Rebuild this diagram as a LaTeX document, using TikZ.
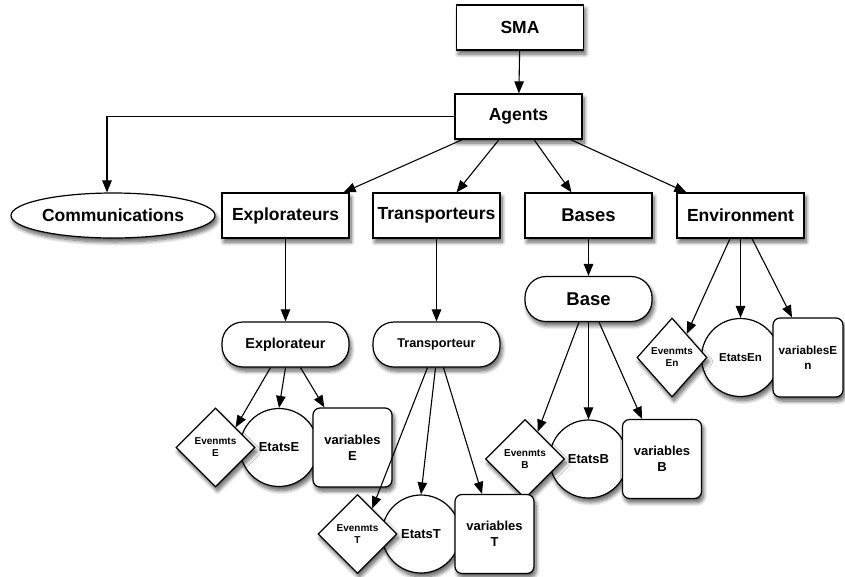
\documentclass[tikz,border=0pt]{standalone}
\usepackage{fontspec}
\setmainfont{Liberation Sans}
\usetikzlibrary{arrows.meta,shapes.geometric,shadows.blur}
\begin{document}
\begin{tikzpicture}[x=1pt,y=-1pt,
  shad/.style={blur shadow={shadow xshift=2pt,shadow yshift=-4pt,shadow blur radius=4pt,shadow blur steps=8,shadow opacity=65}},
  base/.style={draw,line width=1.2pt,fill=white,shad,inner sep=0pt,align=center,font=\bfseries},
  boxn/.style={base,rectangle,minimum width=127pt,minimum height=45pt},
  pill/.style={base,rectangle,rounded corners=21pt,minimum width=127pt,minimum height=45pt},
  dia/.style={base,diamond,minimum width=79pt,minimum height=79pt},
  circ/.style={base,circle,minimum size=78pt},
  vbox/.style={base,rectangle,rounded corners=7pt,minimum width=79pt,minimum height=79pt},
  arr/.style={line width=1.1pt,-{Triangle[length=12pt,width=9.5pt]}},
  fbig/.style={font=\bfseries\fontsize{17.5}{20}\selectfont},
  fmid/.style={font=\bfseries\fontsize{13}{16}\selectfont},
  fsmall/.style={font=\bfseries\fontsize{10}{12}\selectfont}
]
\useasboundingbox (0,0) rectangle (845,576);

% top level
\node[boxn,fbig] (sma) at (520,27.5) {SMA};
\node[boxn,fbig] (agents) at (518.5,116.5) {Agents};
\node[base,ellipse,minimum width=204pt,minimum height=45pt,fbig] (comm) at (113,215.5) {Communications};
\node[boxn,fbig] (expls) at (285.5,215.5) {Explorateurs};
\node[boxn,fbig] (trans) at (436.5,215.5) {Transporteurs};
\node[boxn,font=\bfseries\fontsize{18.5}{21}\selectfont] (bases) at (588.5,215.5) {Bases};
\node[boxn,fbig] (env) at (740.5,215.5) {Environment};

% second level
\node[pill,font=\bfseries\fontsize{14.4}{17}\selectfont] (expl) at (285.5,344.5) {Explorateur};
\node[pill,font=\bfseries\fontsize{12.7}{15}\selectfont] (tra) at (436.5,344.5) {Transporteur};
\node[pill,font=\bfseries\fontsize{18.5}{21}\selectfont] (base) at (588.5,299) {Base};

% Explorateur children
\node[circ,fmid] (etE) at (279,447.5) {EtatsE};
\node[dia,fsmall] (evE) at (215.5,447.5) {Evenmts\\E};
\node[vbox,fmid] (vaE) at (352.5,447.5) {variables\\E};

% Base children
\node[circ,fmid] (etB) at (588.5,459) {EtatsB};
\node[dia,fsmall] (evB) at (525,459) {Evenmts\\B};
\node[vbox,fmid] (vaB) at (662,459) {variables\\B};

% Transporteur children
\node[circ,fmid] (etT) at (421,534) {EtatsT};
\node[dia,fsmall] (evT) at (357.5,534) {Evenmts\\T};
\node[vbox,fmid] (vaT) at (494.5,534) {variables\\T};

% Environment children
\node[circ,font=\bfseries\fontsize{11.5}{14}\selectfont] (etEn) at (740.5,357.5) {EtatsEn};
\node[dia,minimum width=70pt,fsmall] (evEn) at (672,357.5) {Evenmts\\En};
\node[vbox,minimum width=70pt,font=\bfseries\fontsize{11.7}{15}\selectfont] (vaEn) at (808,357.5) {variablesE\\n};

% connectors
\draw[arr] (sma) -- (agents);
\draw[arr] (agents.west) -| ([xshift=-6pt]comm.north);
\draw[arr] ([xshift=8pt]agents.south west) -- ([xshift=-6pt]expls.north east);
\draw[arr] ([xshift=-19.5pt]agents.south) -- ([xshift=20pt]trans.north);
\draw[arr] ([xshift=15.5pt]agents.south) -- ([xshift=-17pt]bases.north);
\draw[arr] ([xshift=-12pt]agents.south east) -- ([xshift=10pt]env.north west);

\draw[arr] (expls) -- (expl);
\draw[arr] (trans) -- (tra);
\draw[arr] (bases) -- (base);

\draw[arr] ([xshift=-15pt]expl.south) -- (evE.north east);
\draw[arr] (expl.south) -- (etE.north);
\draw[arr] ([xshift=15pt]expl.south) -- ([xshift=12pt]vaE.north west);

\draw[arr] ([xshift=-9pt]tra.south) -- (evT.60);
\draw[arr] ([xshift=-1pt]tra.south) -- (etT.north);
\draw[arr] ([xshift=7pt]tra.south) -- ([xshift=-12.5pt]vaT.north);

\draw[arr] ([xshift=-9.5pt]base.south) -- (evB.65);
\draw[arr] (base.south) -- (etB.north);
\draw[arr] ([xshift=10.5pt]base.south) -- ([xshift=-20pt]vaB.north);

\draw[arr] ([xshift=-10.5pt]env.south) -- (evEn.58);
\draw[arr] (env.south) -- (etEn.north);
\draw[arr] ([xshift=11.5pt]env.south) -- ([xshift=-16pt]vaEn.north);
\end{tikzpicture}
\end{document}
